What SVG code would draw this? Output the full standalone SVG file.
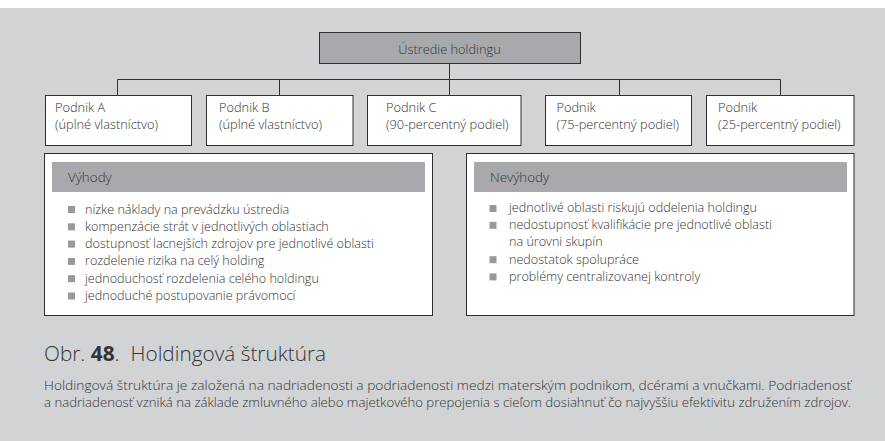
<svg xmlns="http://www.w3.org/2000/svg" width="885" height="441" viewBox="0 0 885 441">
  <style>
    .t { font-family: "Open Sans", "Noto Sans", "Liberation Sans", sans-serif; font-weight: 300; fill: #333335; }
    .node { fill: #ffffff; stroke: #2f2f30; stroke-width: 1; }
    .head { fill: #a7a9ac; stroke: #2f2f30; stroke-width: 1; }
    .band { fill: #a7a9ac; }
    .lbl { font-size: 12.8px; }
    .hd { font-size: 13.4px; }
    .item { font-size: 12.6px; }
    .bul { fill: #97999c; }
    .conn { stroke: #2f2f30; stroke-width: 1; fill: none; }
  </style>

  <!-- page panel -->
  <rect x="0" y="8" width="885" height="433" fill="#d1d3d4"/>

  <!-- connectors -->
  <g id="connectors" class="conn">
    <path d="M449.5 64 V95"/>
    <path d="M117.5 79.5 H780.5"/>
    <path d="M117.5 79.5 V95"/>
    <path d="M279.5 79.5 V95"/>
    <path d="M619.5 79.5 V95"/>
    <path d="M780.5 79.5 V95"/>
  </g>

  <!-- headquarters -->
  <g id="ustredie">
    <rect class="head" x="319.5" y="32.5" width="261" height="31"/>
    <text class="t lbl" x="449.5" y="54" text-anchor="middle">Ústredie holdingu</text>
  </g>

  <!-- subsidiaries -->
  <g id="podnik-a">
    <rect class="node" x="45.5" y="95.5" width="146" height="50"/>
    <text class="t lbl" x="55" y="111.5">Podnik A</text>
    <text class="t lbl" x="55" y="129">(úplné vlastníctvo)</text>
  </g>
  <g id="podnik-b">
    <rect class="node" x="206.5" y="95.5" width="146.5" height="50"/>
    <text class="t lbl" x="219" y="111.5">Podnik B</text>
    <text class="t lbl" x="219" y="129">(úplné vlastníctvo)</text>
  </g>
  <g id="podnik-c">
    <rect class="node" x="367.5" y="95.5" width="153.5" height="50"/>
    <text class="t lbl" x="386" y="111.5">Podnik C</text>
    <text class="t lbl" x="386" y="129">(90-percentný podiel)</text>
  </g>
  <g id="podnik-d">
    <rect class="node" x="545.5" y="95.5" width="146" height="50"/>
    <text class="t lbl" x="556.5" y="111.5">Podnik</text>
    <text class="t lbl" x="556.5" y="129">(75-percentný podiel)</text>
  </g>
  <g id="podnik-e">
    <rect class="node" x="706.5" y="95.5" width="147.5" height="50"/>
    <text class="t lbl" x="718" y="111.5">Podnik</text>
    <text class="t lbl" x="718" y="129">(25-percentný podiel)</text>
  </g>

  <!-- advantages -->
  <g id="vyhody">
    <rect class="node" x="44.5" y="153.5" width="388" height="162"/>
    <rect class="band" x="52" y="162" width="373" height="30"/>
    <text class="t hd" x="68" y="182">Výhody</text>
    <rect class="bul" x="68" y="206" width="7" height="7"/>
    <rect class="bul" x="68" y="223.3" width="7" height="7"/>
    <rect class="bul" x="68" y="240.6" width="7" height="7"/>
    <rect class="bul" x="68" y="257.9" width="7" height="7"/>
    <rect class="bul" x="68" y="275.2" width="7" height="7"/>
    <rect class="bul" x="68" y="292.5" width="7" height="7"/>
    <text class="t item" x="85" y="213.5">nízke náklady na prevádzku ústredia</text>
    <text class="t item" x="85" y="230.8">kompenzácie strát v jednotlivých oblastiach</text>
    <text class="t item" x="85" y="248.1">dostupnosť lacnejších zdrojov pre jednotlivé oblasti</text>
    <text class="t item" x="85" y="265.4">rozdelenie rizika na celý holding</text>
    <text class="t item" x="85" y="282.7">jednoduchosť rozdelenia celého holdingu</text>
    <text class="t item" x="85" y="300">jednoduché postupovanie právomocí</text>
  </g>

  <!-- disadvantages -->
  <g id="nevyhody">
    <rect class="node" x="466.5" y="153.5" width="387.5" height="162"/>
    <rect class="band" x="474" y="162" width="373" height="30"/>
    <text class="t hd" x="490" y="182">Nevýhody</text>
    <rect class="bul" x="489.5" y="205" width="7" height="7"/>
    <rect class="bul" x="489.5" y="221.8" width="7" height="7"/>
    <rect class="bul" x="489.5" y="256.2" width="7" height="7"/>
    <rect class="bul" x="489.5" y="273.4" width="7" height="7"/>
    <text class="t item" x="509" y="212.3">jednotlivé oblasti riskujú oddelenia holdingu</text>
    <text class="t item" x="509" y="229.1">nedostupnosť kvalifikácie pre jednotlivé oblasti</text>
    <text class="t item" x="509" y="246.3">na úrovni skupín</text>
    <text class="t item" x="509" y="263.5">nedostatok spolupráce</text>
    <text class="t item" x="509" y="280.7">problémy centralizovanej kontroly</text>
  </g>

  <!-- caption -->
  <text class="t" x="44" y="361" font-size="20.8">Obr. <tspan font-weight="700">48</tspan>.<tspan dx="11">Holdingová štruktúra</tspan></text>
  <text class="t" x="44" y="390" font-size="12.5" textLength="807" lengthAdjust="spacingAndGlyphs">Holdingová štruktúra je založená na nadriadenosti a podriadenosti medzi materským podnikom, dcérami a vnučkami. Podriadenosť</text>
  <text class="t" x="44" y="407" font-size="12.5" textLength="807" lengthAdjust="spacingAndGlyphs">a nadriadenosť vzniká na základe zmluvného alebo majetkového prepojenia s cieľom dosiahnuť čo najvyššiu efektivitu združením zdrojov.</text>
</svg>
